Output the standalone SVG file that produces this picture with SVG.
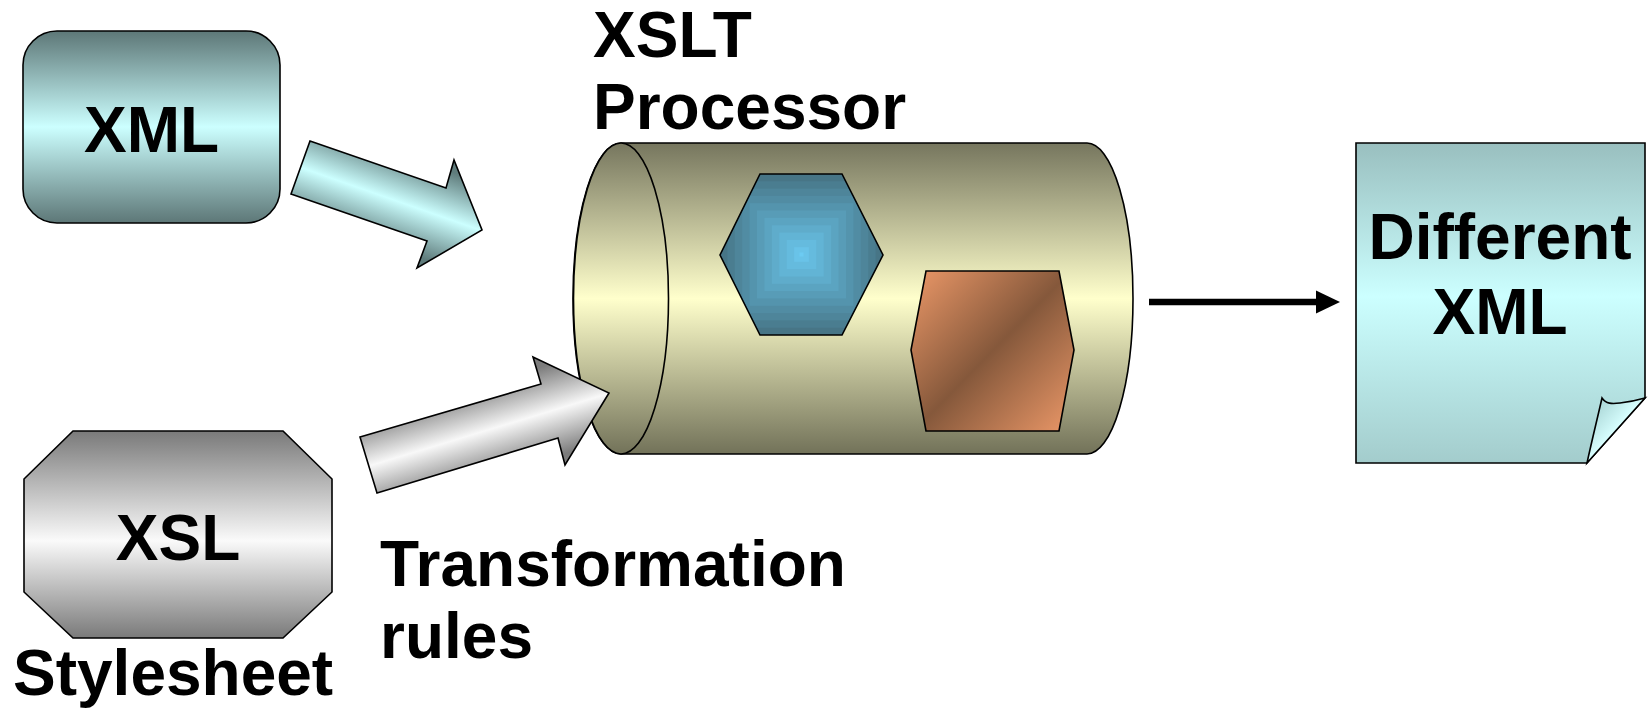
<svg xmlns="http://www.w3.org/2000/svg" width="1652" height="710" viewBox="0 0 1652 710">
<style>
  .lbl { font-family: "Liberation Sans", Arial, sans-serif; font-weight: bold; font-size: 64px; fill: #000; }
  .edge { stroke: #000; stroke-width: 1.6; stroke-linejoin: miter; }
</style>
<defs>
  <linearGradient id="gXml" x1="0" y1="0" x2="0" y2="1">
    <stop offset="0" stop-color="#5D7777"/>
    <stop offset="0.5" stop-color="#CCFFFF"/>
    <stop offset="1" stop-color="#5D7777"/>
  </linearGradient>
  <linearGradient id="gDoc" x1="0" y1="0" x2="0" y2="1">
    <stop offset="0" stop-color="#99BFBF"/>
    <stop offset="0.48" stop-color="#CCFFFF"/>
    <stop offset="1" stop-color="#A3CCCC"/>
  </linearGradient>
  <linearGradient id="gFlap" x1="0" y1="0" x2="1" y2="1">
    <stop offset="0" stop-color="#99C7C7"/>
    <stop offset="0.5" stop-color="#D8FFFF"/>
    <stop offset="1" stop-color="#99C7C7"/>
  </linearGradient>
  <linearGradient id="gOct" x1="0" y1="0" x2="0" y2="1">
    <stop offset="0" stop-color="#7A7A7A"/>
    <stop offset="0.53" stop-color="#FAFAFA"/>
    <stop offset="1" stop-color="#7A7A7A"/>
  </linearGradient>
  <linearGradient id="gCyl" gradientUnits="userSpaceOnUse" x1="0" y1="143" x2="0" y2="454">
    <stop offset="0" stop-color="#76765E"/>
    <stop offset="0.5" stop-color="#FFFFCC"/>
    <stop offset="1" stop-color="#727259"/>
  </linearGradient>
  <clipPath id="cHex">
    <polygon points="760,174 842,174 883,255 842,335 760,335 720,255"/>
  </clipPath>
  <linearGradient id="gCu" gradientUnits="userSpaceOnUse" x1="911" y1="271" x2="1074" y2="431">
    <stop offset="0" stop-color="#EC9868"/>
    <stop offset="0.5" stop-color="#85583B"/>
    <stop offset="1" stop-color="#EC9868"/>
  </linearGradient>
  <linearGradient id="gArrC" gradientUnits="userSpaceOnUse" x1="406" y1="156" x2="376" y2="242">
    <stop offset="0" stop-color="#5F7C7C"/>
    <stop offset="0.5" stop-color="#CCFFFF"/>
    <stop offset="1" stop-color="#5F7C7C"/>
  </linearGradient>
  <linearGradient id="gArrG" gradientUnits="userSpaceOnUse" x1="475" y1="387" x2="501" y2="473">
    <stop offset="0" stop-color="#7C7C7C"/>
    <stop offset="0.5" stop-color="#F8F8F8"/>
    <stop offset="1" stop-color="#7C7C7C"/>
  </linearGradient>
</defs>

<g id="node-xml">
  <rect x="23" y="31" width="257" height="192" rx="34" ry="34" fill="url(#gXml)" class="edge"/>
  <text class="lbl" x="151.5" y="152" text-anchor="middle">XML</text>
</g>

<g id="node-xsl">
  <polygon points="73,431 283,431 332,479 332,592 283,638 73,638 24,592 24,479" fill="url(#gOct)" class="edge"/>
  <text class="lbl" x="178" y="560" text-anchor="middle">XSL</text>
  <text class="lbl" x="13" y="695">Stylesheet</text>
</g>

<g id="node-processor">
  <text class="lbl" x="593" y="57">XSLT</text>
  <text class="lbl" x="593" y="129">Processor</text>
  <path d="M621,143 L1087,143 A46,155.5 0 0 1 1087,454 L621,454 A48,155.5 0 0 1 621,143 Z" fill="url(#gCyl)" class="edge"/>
  <ellipse cx="621" cy="298.5" rx="47.5" ry="155.5" fill="url(#gCyl)" class="edge"/>
  <g clip-path="url(#cHex)">
    <rect x="720" y="174" width="163" height="161" fill="#477586"/>
    <rect x="727.4" y="181.3" width="148.2" height="146.4" fill="#4A7D90"/>
    <rect x="734.8" y="188.6" width="133.4" height="131.8" fill="#4E859A"/>
    <rect x="742.2" y="195.9" width="118.6" height="117.2" fill="#518CA3"/>
    <rect x="749.6" y="203.2" width="103.8" height="102.6" fill="#5494AD"/>
    <rect x="757" y="210.5" width="89" height="87.9" fill="#589CB7"/>
    <rect x="764.5" y="217.9" width="74" height="73.1" fill="#5BA4C1"/>
    <rect x="771.9" y="225.3" width="59.2" height="58.5" fill="#5FACCB"/>
    <rect x="779.3" y="232.6" width="44.4" height="43.9" fill="#62B4D5"/>
    <rect x="786.7" y="239.9" width="29.6" height="29.2" fill="#65BBDE"/>
    <rect x="794.1" y="247.2" width="14.8" height="14.6" fill="#69C3E8"/>
    <rect x="799.5" y="252.5" width="4" height="4" fill="#6CCBF2"/>
  </g>
  <polygon points="760,174 842,174 883,255 842,335 760,335 720,255" fill="none" class="edge"/>
  <polygon points="926,271 1059,271 1074,350 1059,431 926,431 911,350" fill="url(#gCu)" class="edge"/>
</g>

<g id="node-output">
  <path d="M1356,143 H1645 V398 L1587,463 H1356 Z" fill="url(#gDoc)" class="edge"/>
  <path d="M1602,398 C1606,404 1612,404 1620,403 C1630,402 1638,400 1645,398 L1587,463 C1592,440 1597,420 1602,398 Z" fill="url(#gFlap)" class="edge"/>
  <text class="lbl" x="1500" y="259" text-anchor="middle">Different</text>
  <text class="lbl" x="1500" y="334" text-anchor="middle">XML</text>
</g>

<g id="connectors">
  <polygon points="310,141 446,188 454,160 482,230 417,268 427,241 291,194" fill="url(#gArrC)" class="edge"/>
  <polygon points="360,437 541,384 533,357 609,393 565,465 558,438 377,493" fill="url(#gArrG)" class="edge"/>
  <text class="lbl" x="380" y="586">Transformation</text>
  <text class="lbl" x="380" y="658">rules</text>
  <line x1="1149" y1="302" x2="1320" y2="302" stroke="#000" stroke-width="6.5"/>
  <polygon points="1316,290.5 1340,302 1316,313.5" fill="#000"/>
</g>
</svg>
